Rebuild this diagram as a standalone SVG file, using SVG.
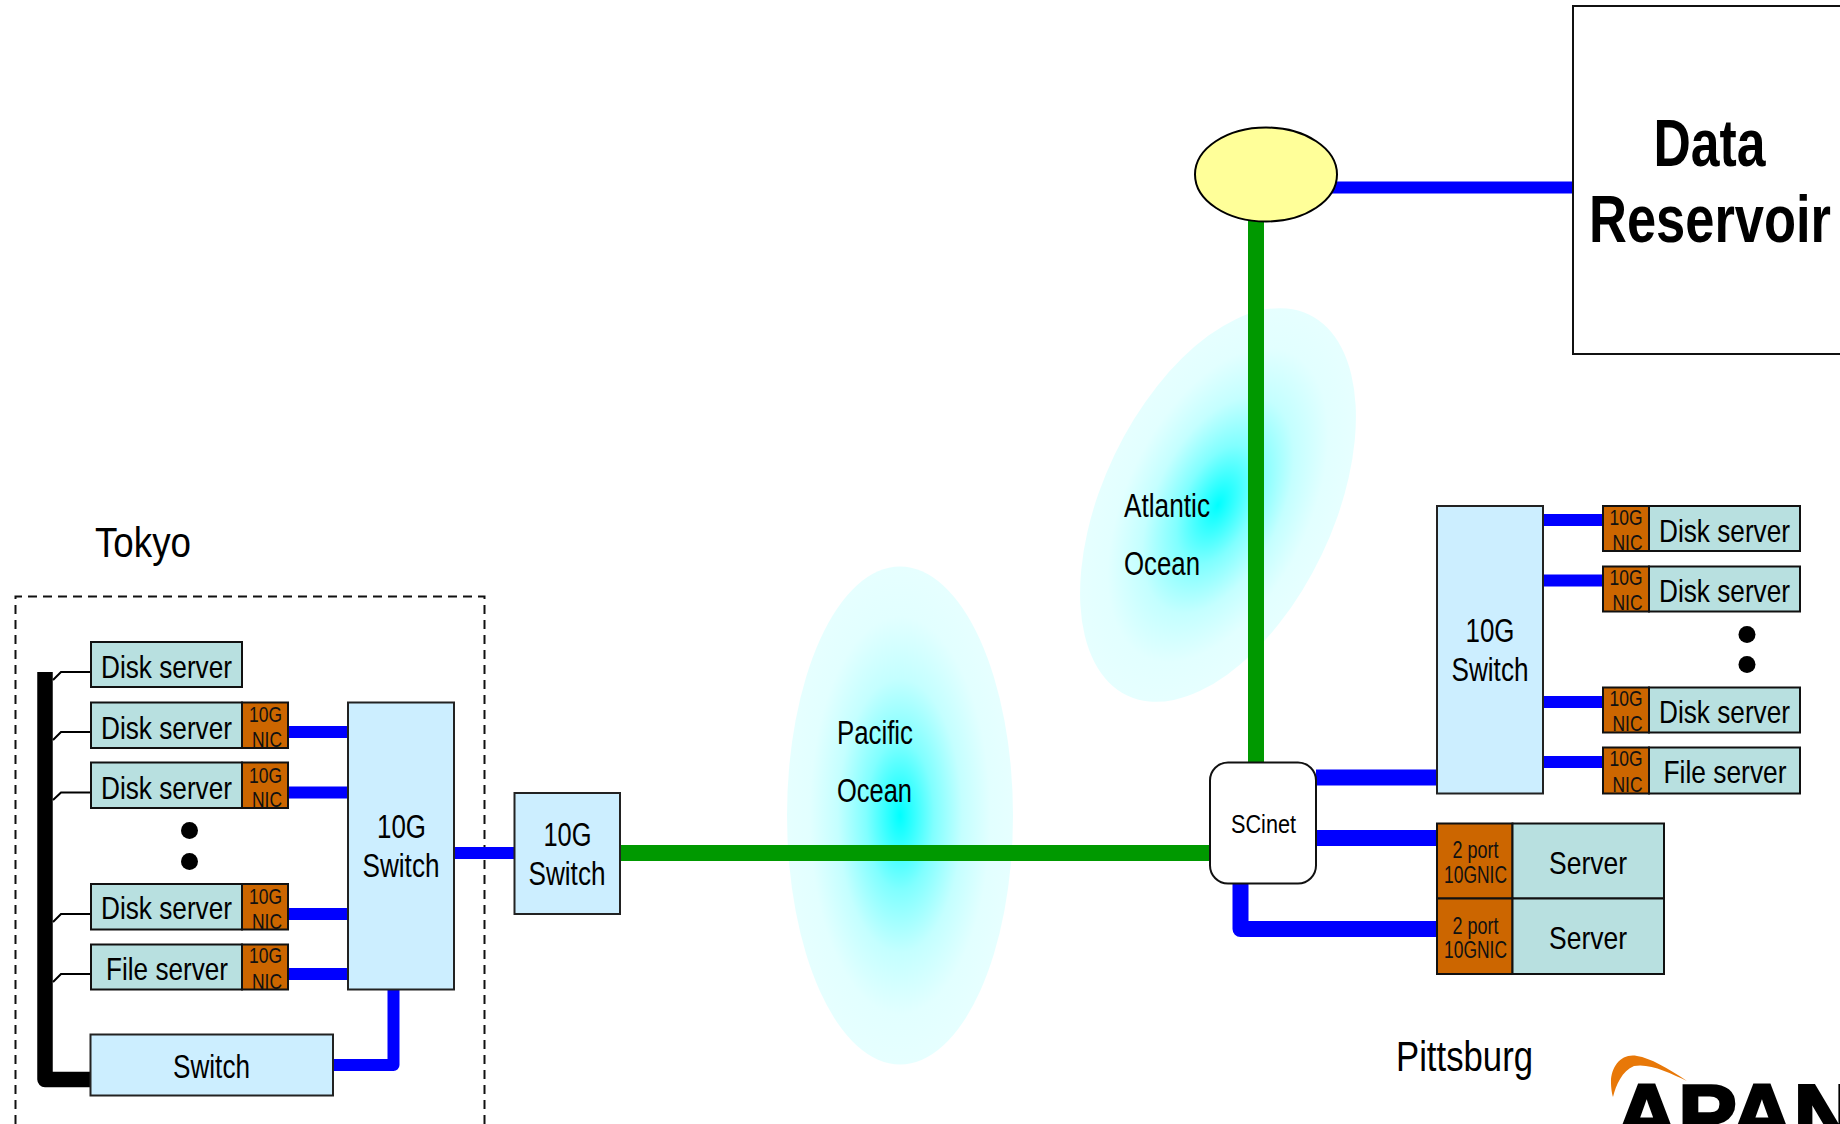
<svg xmlns="http://www.w3.org/2000/svg" width="1840" height="1124" viewBox="0 0 1840 1124">
<style>
text{font-family:"Liberation Sans",Arial,sans-serif;fill:#000}
.s{font-size:32px}.n{font-size:22px;fill:#111}.w{font-size:33px}.l{font-size:42px}.o{font-size:33px}.p{font-size:23px;fill:#111}
.d{font-size:66px;font-weight:bold}
.srv{fill:#b8e0e0;stroke:#111;stroke-width:2}
.nic{fill:#cc6600;stroke:#111;stroke-width:2}
.sw{fill:#cceeff;stroke:#222;stroke-width:2}
.blue{fill:none;stroke:#0000ff;stroke-width:12}
.blue2{fill:none;stroke:#0000ff;stroke-width:16;stroke-linejoin:round}
.green{fill:none;stroke:#009900;stroke-width:16}
.thin{fill:none;stroke:#000;stroke-width:2}
</style>
<defs>
<radialGradient id="sea"><stop offset="0" stop-color="#00ffff"/><stop offset="0.12" stop-color="#33ffff"/><stop offset="0.3" stop-color="#80ffff"/><stop offset="0.55" stop-color="#c4ffff"/><stop offset="0.8" stop-color="#e2ffff"/><stop offset="1" stop-color="#e6ffff"/></radialGradient>
</defs>
<rect width="1840" height="1124" fill="#fff"/>
<g id="pacific"><ellipse cx="900" cy="815.500" rx="113" ry="249" fill="url(#sea)"/></g>
<g id="atlantic"><ellipse cx="1218" cy="505" rx="115" ry="211" fill="url(#sea)" transform="rotate(25.5 1218 505)"/></g>
<g id="tokyo-boundary"><path d="M15.500 1124V596.500H484.500V1124" fill="none" stroke="#111" stroke-width="2" stroke-dasharray="9 6"/></g>
<g id="connectors">
<path class="green" d="M620 853H1210"/>
<path class="green" d="M1256 221V762"/>
<path class="blue" d="M1330 187.500H1573"/>
<path class="blue" d="M288 732H348M288 792.500H348M288 914H348M288 974H348M454 853H514"/>
<path class="blue2" d="M393.500 989V1065H333" style="stroke-width:12"/>
<path d="M45 672V1079.500H90" fill="none" stroke="#000" stroke-width="15.500" stroke-linejoin="round"/>
<path class="thin" d="M53 680L61 672H90M53 740L61 732H90M53 800L61 792.500H90M53 922L61 914H90M53 982L61 974H90"/>
<path class="blue" d="M1543 520H1603M1543 580.500H1603M1543 702H1603M1543 762H1603"/>
<path class="blue2" d="M1316 777.500H1437M1316 838H1437M1240.500 883V929H1437"/>
</g>
<g id="tokyo-disk-0"><rect class="srv" x="91" y="642" width="151" height="45"/><text class="s" x="101" y="678" textLength="131" lengthAdjust="spacingAndGlyphs">Disk server</text></g>
<g id="tokyo-disk-1"><rect class="srv" x="91" y="702.500" width="151" height="45.500"/><rect class="nic" x="242" y="702.500" width="46" height="45.500"/><text class="s" x="101" y="738.500" textLength="131" lengthAdjust="spacingAndGlyphs">Disk server</text><text class="n" x="249" y="721.500" textLength="33" lengthAdjust="spacingAndGlyphs">10G</text><text class="n" x="252" y="747" textLength="30" lengthAdjust="spacingAndGlyphs">NIC</text></g>
<g id="tokyo-disk-2"><rect class="srv" x="91" y="762.500" width="151" height="45.500"/><rect class="nic" x="242" y="762.500" width="46" height="45.500"/><text class="s" x="101" y="799" textLength="131" lengthAdjust="spacingAndGlyphs">Disk server</text><text class="n" x="249" y="782.500" textLength="33" lengthAdjust="spacingAndGlyphs">10G</text><text class="n" x="252" y="807" textLength="30" lengthAdjust="spacingAndGlyphs">NIC</text></g>
<g id="tokyo-dots"><circle cx="189.500" cy="830.500" r="8.500"/><circle cx="189.500" cy="861.500" r="8.500"/></g>
<g id="tokyo-disk-3"><rect class="srv" x="91" y="884" width="151" height="45.500"/><rect class="nic" x="242" y="884" width="46" height="45.500"/><text class="s" x="101" y="919" textLength="131" lengthAdjust="spacingAndGlyphs">Disk server</text><text class="n" x="249" y="903.500" textLength="33" lengthAdjust="spacingAndGlyphs">10G</text><text class="n" x="252" y="929" textLength="30" lengthAdjust="spacingAndGlyphs">NIC</text></g>
<g id="tokyo-file"><rect class="srv" x="91" y="944.500" width="151" height="45"/><rect class="nic" x="242" y="944.500" width="46" height="45"/><text class="s" x="106" y="980" textLength="122" lengthAdjust="spacingAndGlyphs">File server</text><text class="n" x="249" y="963" textLength="33" lengthAdjust="spacingAndGlyphs">10G</text><text class="n" x="252" y="989" textLength="30" lengthAdjust="spacingAndGlyphs">NIC</text></g>
<g id="tokyo-switch-10g"><rect class="sw" x="348" y="702.500" width="106" height="287"/><text class="w" x="377" y="838" textLength="49" lengthAdjust="spacingAndGlyphs">10G</text><text class="w" x="362.500" y="877" textLength="77" lengthAdjust="spacingAndGlyphs">Switch</text></g>
<g id="edge-switch-10g"><rect class="sw" x="514.500" y="793" width="105.500" height="121"/><text class="w" x="543.500" y="846" textLength="48" lengthAdjust="spacingAndGlyphs">10G</text><text class="w" x="528.500" y="885" textLength="77" lengthAdjust="spacingAndGlyphs">Switch</text></g>
<g id="tokyo-switch"><rect class="sw" x="90.500" y="1034.500" width="242.500" height="61"/><text class="w" x="173" y="1078" textLength="77" lengthAdjust="spacingAndGlyphs">Switch</text></g>
<g id="scinet"><rect x="1210" y="762.500" width="106" height="121" rx="18" ry="18" fill="#fff" stroke="#111" stroke-width="2"/><text x="1231" y="833" font-size="26" textLength="65" lengthAdjust="spacingAndGlyphs">SCinet</text></g>
<g id="router"><ellipse cx="1266" cy="174.500" rx="71" ry="47" fill="#ffff99" stroke="#000" stroke-width="2"/></g>
<g id="data-reservoir"><rect x="1573" y="6" width="290" height="348" fill="#fff" stroke="#111" stroke-width="2"/><text class="d" x="1653.500" y="166" textLength="112" lengthAdjust="spacingAndGlyphs">Data</text><text class="d" x="1589" y="242" textLength="242" lengthAdjust="spacingAndGlyphs">Reservoir</text></g>
<g id="pitt-switch-10g"><rect class="sw" x="1437" y="506" width="106" height="287.500"/><text class="w" x="1465.500" y="642" textLength="49" lengthAdjust="spacingAndGlyphs">10G</text><text class="w" x="1451.500" y="681" textLength="77" lengthAdjust="spacingAndGlyphs">Switch</text></g>
<g id="pitt-disk-1"><rect class="srv" x="1649" y="506" width="151" height="45"/><rect class="nic" x="1603" y="506" width="46" height="45"/><text class="s" x="1659" y="542" textLength="131" lengthAdjust="spacingAndGlyphs">Disk server</text><text class="n" x="1609.500" y="524.500" textLength="33" lengthAdjust="spacingAndGlyphs">10G</text><text class="n" x="1612.500" y="550" textLength="30" lengthAdjust="spacingAndGlyphs">NIC</text></g>
<g id="pitt-disk-2"><rect class="srv" x="1649" y="566.500" width="151" height="45"/><rect class="nic" x="1603" y="566.500" width="46" height="45"/><text class="s" x="1659" y="602" textLength="131" lengthAdjust="spacingAndGlyphs">Disk server</text><text class="n" x="1609.500" y="584.500" textLength="33" lengthAdjust="spacingAndGlyphs">10G</text><text class="n" x="1612.500" y="610" textLength="30" lengthAdjust="spacingAndGlyphs">NIC</text></g>
<g id="pitt-dots"><circle cx="1747" cy="634.500" r="8.500"/><circle cx="1747" cy="664.500" r="8.500"/></g>
<g id="pitt-disk-3"><rect class="srv" x="1649" y="687.500" width="151" height="45"/><rect class="nic" x="1603" y="687.500" width="46" height="45"/><text class="s" x="1659" y="723" textLength="131" lengthAdjust="spacingAndGlyphs">Disk server</text><text class="n" x="1609.500" y="706" textLength="33" lengthAdjust="spacingAndGlyphs">10G</text><text class="n" x="1612.500" y="731" textLength="30" lengthAdjust="spacingAndGlyphs">NIC</text></g>
<g id="pitt-file"><rect class="srv" x="1649" y="747.500" width="151" height="46"/><rect class="nic" x="1603" y="747.500" width="46" height="46"/><text class="s" x="1663.500" y="783" textLength="123" lengthAdjust="spacingAndGlyphs">File server</text><text class="n" x="1609.500" y="766" textLength="33" lengthAdjust="spacingAndGlyphs">10G</text><text class="n" x="1612.500" y="792" textLength="30" lengthAdjust="spacingAndGlyphs">NIC</text></g>
<g id="pitt-server-1"><rect class="nic" x="1437" y="823.500" width="75.500" height="75"/><rect class="srv" x="1512.500" y="823.500" width="151.500" height="75"/><text class="p" x="1452.500" y="858" textLength="46" lengthAdjust="spacingAndGlyphs">2 port</text><text class="p" x="1444" y="883" textLength="63" lengthAdjust="spacingAndGlyphs">10GNIC</text><text class="s" x="1549" y="874" textLength="78" lengthAdjust="spacingAndGlyphs">Server</text></g>
<g id="pitt-server-2"><rect class="nic" x="1437" y="898.500" width="75.500" height="75.500"/><rect class="srv" x="1512.500" y="898.500" width="151.500" height="75.500"/><text class="p" x="1452.500" y="933.500" textLength="46" lengthAdjust="spacingAndGlyphs">2 port</text><text class="p" x="1444" y="958" textLength="63" lengthAdjust="spacingAndGlyphs">10GNIC</text><text class="s" x="1549" y="949" textLength="78" lengthAdjust="spacingAndGlyphs">Server</text></g>
<g id="labels">
<text class="l" x="95" y="557" textLength="96" lengthAdjust="spacingAndGlyphs">Tokyo</text>
<text class="l" x="1396" y="1071" textLength="137" lengthAdjust="spacingAndGlyphs">Pittsburg</text>
<text class="o" x="837" y="744" textLength="76" lengthAdjust="spacingAndGlyphs">Pacific</text>
<text class="o" x="837" y="802" textLength="75" lengthAdjust="spacingAndGlyphs">Ocean</text>
<text class="o" x="1124" y="517" textLength="86" lengthAdjust="spacingAndGlyphs">Atlantic</text>
<text class="o" x="1124" y="575" textLength="76" lengthAdjust="spacingAndGlyphs">Ocean</text>
</g>
<g id="apan-logo">
<path d="M1687 1081C1668 1068 1650 1058 1637 1056C1622 1053 1611 1066 1611 1082C1611 1088 1612 1094 1613 1097C1616 1085 1622 1071 1634 1066C1650 1063 1670 1073 1687 1081Z" fill="#e87808"/>
<text x="1615" y="1143" font-size="84" font-weight="bold" style="stroke:#000;stroke-width:3px" textLength="242" lengthAdjust="spacingAndGlyphs">APAN</text>
</g>
</svg>
